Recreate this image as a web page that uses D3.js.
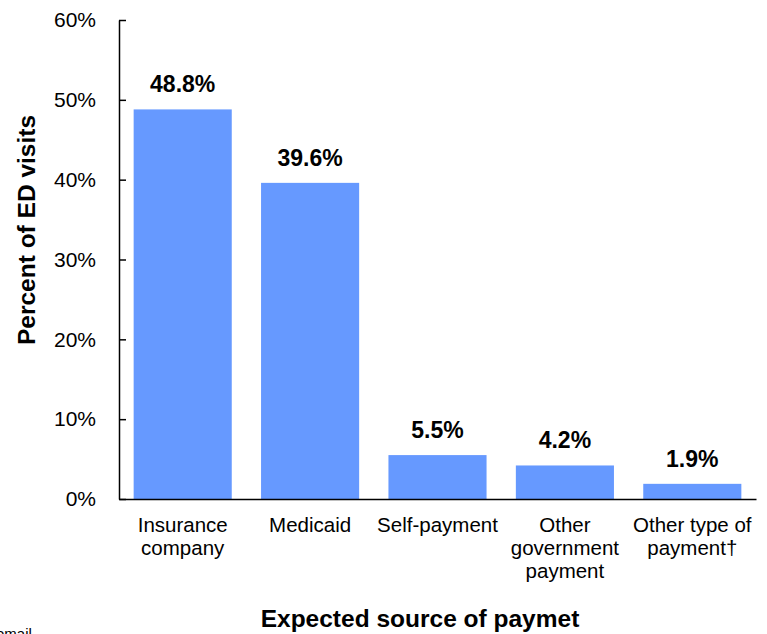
<!DOCTYPE html>
<html>
<head>
<meta charset="utf-8">
<script src="https://cdn.jsdelivr.net/npm/d3@7"></script>
<style>
  body { margin: 0; background: #fff; }
  svg { display: block; font-family: "Liberation Sans", Arial, sans-serif; }
</style>
</head>
<body>
<script>
// chart data
var categories = ["Insurance company", "Medicaid", "Self-payment", "Other government payment", "Other type of payment\u2020"];
var categoryLines = [["Insurance", "company"], ["Medicaid"], ["Self-payment"], ["Other", "government", "payment"], ["Other type of", "payment\u2020"]];
var percentValues = [48.8, 39.6, 5.5, 4.2, 1.9];
var yTicks = [0, 10, 20, 30, 40, 50, 60];

var width = 767;
var height = 634;
// note: "top" is taken by window.top, so use other names
var plotLeft = 119, plotRight = 756, plotTop = 20, plotBottom = 499;

var svg = d3.select("body")
  .append("svg")
  .attr("width", width)
  .attr("height", height);

var x = d3.scaleBand()
  .domain(categories)
  .range([plotLeft, plotRight])
  .paddingInner(0.23)
  .paddingOuter(0.115);

var y = d3.scaleLinear()
  .domain([0, 60])
  .range([plotBottom, plotTop]);

// bars
svg.append("g")
  .selectAll("rect")
  .data(percentValues)
  .enter()
  .append("rect")
  .attr("x", (d, i) => x(categories[i]))
  .attr("y", d => y(d))
  .attr("width", x.bandwidth())
  .attr("height", d => y(0) - y(d))
  .style("fill", "#6699ff");

// value labels
svg.append("g")
  .selectAll("text")
  .data(percentValues)
  .enter()
  .append("text")
  .attr("x", (d, i) => x(categories[i]) + x.bandwidth() / 2)
  .attr("y", d => y(d) - 17)
  .attr("text-anchor", "middle")
  .style("font-size", "23px")
  .style("font-weight", "bold")
  .text(d => d.toFixed(1) + "%");

// y axis, ticks point inward
var yAxis = svg.append("g")
  .attr("transform", "translate(" + plotLeft + ",0)")
  .call(d3.axisLeft(y)
    .tickValues(yTicks)
    .tickSize(-7)
    .tickSizeOuter(0)
    .tickPadding(23)
    .tickFormat(d => d + "%"));
yAxis.selectAll("text").style("font-size", "21px").style("fill", "#000");
yAxis.selectAll("line,path").style("stroke", "#000").style("stroke-width", 1.5);

// x axis
var xAxis = svg.append("g")
  .attr("transform", "translate(0," + plotBottom + ")")
  .call(d3.axisBottom(x).tickSize(0).tickSizeOuter(0).tickFormat(""));
xAxis.select("path").style("stroke", "#000").style("stroke-width", 1.5);

xAxis.selectAll(".tick").each(function (d, i) {
  var t = d3.select(this).append("text")
    .attr("text-anchor", "middle")
    .attr("y", 33)
    .style("font-size", "20.5px")
    .style("fill", "#000");
  categoryLines[i].forEach(function (line, j) {
    t.append("tspan")
      .attr("x", 0)
      .attr("dy", j == 0 ? 0 : 23)
      .text(line);
  });
});

// axis titles
svg.append("text")
  .attr("x", 420)
  .attr("y", 627)
  .attr("text-anchor", "middle")
  .style("font-size", "24.5px")
  .style("font-weight", "bold")
  .text("Expected source of paymet");

svg.append("text")
  .attr("transform", "translate(35,230) rotate(-90)")
  .attr("text-anchor", "middle")
  .style("font-size", "24.5px")
  .style("font-weight", "bold")
  .text("Percent of ED visits");

// leftover footnote text cut at the bottom
svg.append("text")
  .attr("x", -4)
  .attr("y", 639)
  .style("font-size", "15px")
  .text("email");
</script>
</body>
</html>
